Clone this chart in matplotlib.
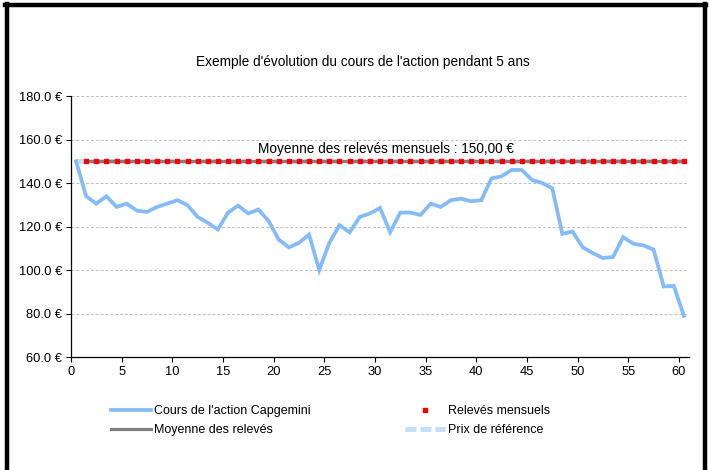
import numpy as np
import matplotlib
matplotlib.use("Agg")
import matplotlib.pyplot as plt
from matplotlib.lines import Line2D

plt.rcParams['font.family'] = ['Liberation Sans', 'DejaVu Sans']

# ---- data ----
months = np.arange(61)  # months 0..60
price = [150.0, 133.9, 130.5, 133.9, 129.0, 130.5, 127.3, 126.7, 129.0, 130.5,
         132.1, 129.8, 124.4, 121.7, 118.6, 126.4, 129.6, 126.0, 127.8, 122.6,
         114.0, 110.4, 112.5, 116.3, 100.0, 112.5, 120.6, 117.3, 124.4, 126.0,
         128.5, 117.4, 126.4, 126.4, 125.3, 130.5, 129.0, 132.1, 132.8, 131.6,
         132.1, 142.1, 143.1, 146.0, 146.0, 141.4, 140.0, 137.6, 116.6, 117.7,
         110.5, 107.8, 105.5, 106.0, 115.1, 112.1, 111.3, 109.4, 92.4, 92.7,
         78.9]
releve_months = np.arange(1, 61)
releves = [150.0] * 60
moyenne = [150.0] * 60
reference = [150.0] * 61
y_ticks = [60, 80, 100, 120, 140, 160, 180]
x_ticks = [0, 5, 10, 15, 20, 25, 30, 35, 40, 45, 50, 55, 60]
title = "Exemple d'évolution du cours de l'action pendant 5 ans"
annot = "Moyenne des relevés mensuels : 150,00 €"

OFF = 0.5  # points plotted centred on month slots

fig = plt.figure(figsize=(7.1, 4.7), dpi=100)
ax = fig.add_axes([71/710, 1-357/470, (689-71)/710, (357-96)/470])

ax.plot(months + OFF, reference, color='#c6dff8', lw=3.6, ls=(0, (2.2, 0.8)),
        label='Prix de référence', zorder=2)
ax.plot(releve_months + OFF, moyenne, color='#808080', lw=2.3,
        label='Moyenne des relevés', zorder=3)
ax.plot(releve_months + OFF, releves, ls='none', marker='s', ms=3.2,
        color='#ff0000', mec='#ff0000', label='Relevés mensuels', zorder=4)
ax.plot(months + OFF, price, color='#85bcf8', lw=2.7, solid_joinstyle='miter',
        label="Cours de l'action Capgemini", zorder=5)

ax.set_xlim(0, 61)
ax.set_ylim(60, 180)
ax.set_yticks(y_ticks)
ax.set_yticklabels([f"{v:.1f} €" for v in y_ticks])
ax.set_xticks(x_ticks)
ax.set_xticklabels([str(v) for v in x_ticks])
ax.tick_params(axis='both', direction='out', length=3.5, width=0.8,
               labelsize=9.3, colors='black', pad=3)
ax.yaxis.grid(True, color='#c0c0c0', ls=(0, (3, 2)), lw=0.7)
ax.set_axisbelow(True)
for s in ['top', 'right']:
    ax.spines[s].set_visible(False)
for s in ['left', 'bottom']:
    ax.spines[s].set_linewidth(0.9)

fig.text(363/710, 1-62/470, title, ha='center', va='center', fontsize=9.8)
fig.text(386/710, 1-149/470, annot, ha='center', va='center', fontsize=9.8)

h, l = ax.get_legend_handles_labels()
order = [3, 1, 2, 0]
handles = [h[i] for i in order]
labels = [l[i] for i in order]
leg = fig.legend(handles, labels, ncol=2, loc='upper left',
                 bbox_to_anchor=(100/710, 1-394/470), frameon=False,
                 fontsize=9, handlelength=3.2, handletextpad=0.25,
                 columnspacing=7.5, labelspacing=0.55, numpoints=1)

# outer chart frame
fw = 3.2
fig.add_artist(Line2D([6.5/710, 6.5/710], [0, 1-4/470], color='black', lw=fw,
                      transform=fig.transFigure))
fig.add_artist(Line2D([5/710, 706/710], [1-4.5/470, 1-4.5/470], color='black', lw=fw,
                      transform=fig.transFigure))
fig.add_artist(Line2D([705/710, 705/710], [0, 1-4/470], color='black', lw=fw,
                      transform=fig.transFigure))

fig.savefig('out.png', dpi=100)
